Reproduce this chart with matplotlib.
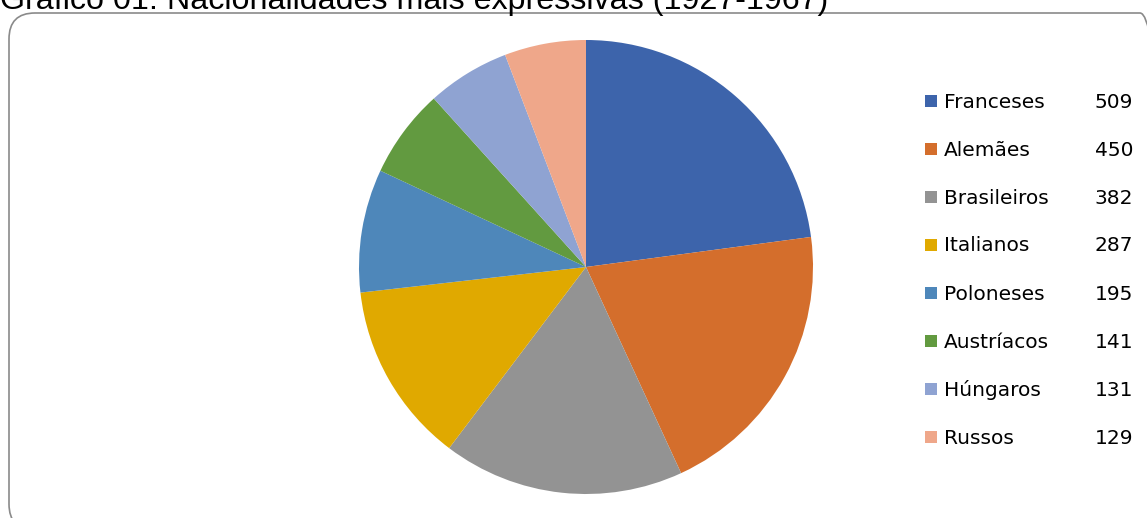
import matplotlib.pyplot as plt
from matplotlib.patches import FancyBboxPatch, Rectangle
from matplotlib.transforms import IdentityTransform

nationalities = ["Franceses", "Alemães", "Brasileiros", "Italianos",
                 "Poloneses", "Austríacos", "Húngaros", "Russos"]
counts = [509, 450, 382, 287, 195, 141, 131, 129]
colors = ["#3d64ab", "#d46e2c", "#939393", "#e0a900",
          "#4e87ba", "#629a40", "#8fa3d2", "#efa78a"]
title = "Gráfico 01: Nacionalidades mais expressivas (1927-1967)"

W, H = 1147, 518
fig = plt.figure(figsize=(W / 100, H / 100), dpi=100)

# rounded frame of the chart area (pixel coords), runs off the right and bottom edges
frame = FancyBboxPatch((9, -12), 1157, 517, boxstyle="round,pad=0,rounding_size=26",
                       transform=IdentityTransform(), fill=False,
                       edgecolor="#8a8a8a", linewidth=1.2)
fig.patches.append(frame)

# title, partly cut off at the top like the source
fig.text(0 / W, 1 - 9 / H, title, fontsize=23.2, family="Liberation Sans",
         va="baseline", ha="left", color="black")

# pie
cx, cy, r = 586, 267, 227
ax = fig.add_axes([(cx - r) / W, (H - cy - r) / H, 2 * r / W, 2 * r / H])
ax.pie(counts, colors=colors, startangle=90, counterclock=False, radius=1,
       wedgeprops=dict(linewidth=0))
ax.set_xlim(-1, 1)
ax.set_ylim(-1, 1)
ax.set_aspect("equal")
ax.axis("off")

# legend with values
y0, step = 101, 48
for i, (name, n, c) in enumerate(zip(nationalities, counts, colors)):
    y = y0 + i * step
    fig.patches.append(Rectangle((925, H - y - 6), 12, 12, transform=IdentityTransform(),
                                 facecolor=c, edgecolor="none"))
    fig.text(944 / W, 1 - (y + 1) / H, name, fontsize=14.5, family="DejaVu Sans",
             va="center", ha="left")
    fig.text(1133 / W, 1 - (y + 1) / H, str(n), fontsize=14.5, family="DejaVu Sans",
             va="center", ha="right")

fig.savefig("out.png", dpi=100)
